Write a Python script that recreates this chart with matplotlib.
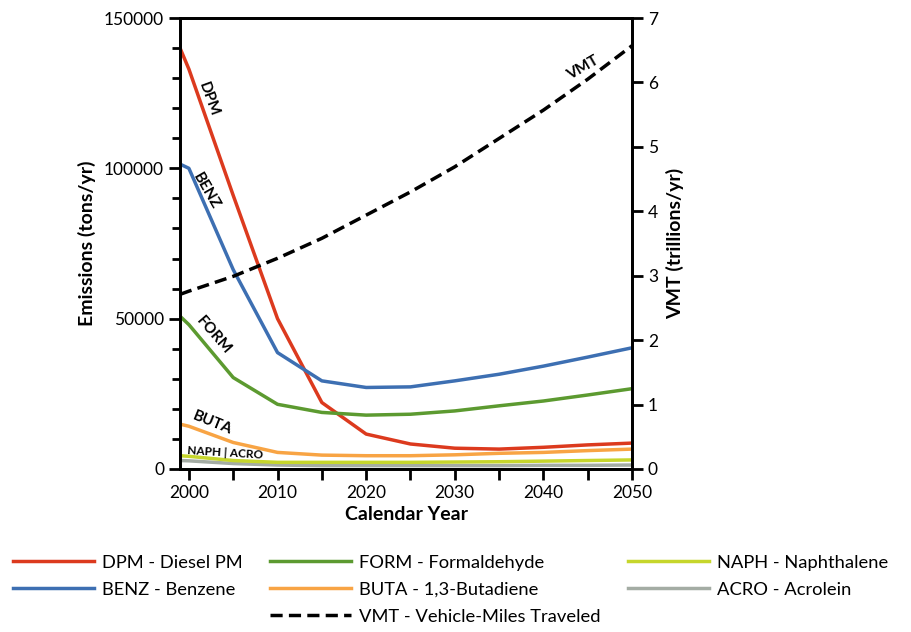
import matplotlib.pyplot as plt
from matplotlib.lines import Line2D

plt.rcParams['font.family'] = ['Lato', 'DejaVu Sans']

years = [1999, 2000, 2005, 2010, 2015, 2020, 2025, 2030, 2035, 2040, 2045, 2050]
dpm = [140000, 133000, 91000, 50000, 22100, 11600, 8300, 6900, 6600, 7200, 8000, 8600]
benz = [101400, 100000, 66300, 38700, 29300, 27100, 27300, 29300, 31500, 34200, 37200, 40300]
form = [50800, 48000, 30400, 21500, 18800, 17900, 18200, 19300, 21000, 22600, 24600, 26700]
buta = [14900, 14200, 8800, 5500, 4600, 4400, 4400, 4700, 5200, 5500, 6100, 6600]
naph = [4400, 4200, 2800, 2200, 2200, 2200, 2200, 2300, 2400, 2600, 2800, 3000]
acro = [2800, 2700, 1800, 1300, 1100, 1100, 1100, 1100, 1100, 1200, 1200, 1300]
vmt = [2.71, 2.76, 2.99, 3.27, 3.58, 3.94, 4.30, 4.69, 5.13, 5.57, 6.05, 6.57]

fig = plt.figure(figsize=(9.12, 6.32), dpi=100)
ax = fig.add_axes([0.1974, 0.258, 0.4956, 0.7135])
ax2 = ax.twinx()

lw = 2.5
l_dpm, = ax.plot(years, dpm, color='#dc3a1e', lw=lw, label='DPM - Diesel PM')
l_benz, = ax.plot(years, benz, color='#3d6fb2', lw=lw, label='BENZ - Benzene')
l_form, = ax.plot(years, form, color='#5c9a30', lw=lw, label='FORM - Formaldehyde')
l_buta, = ax.plot(years, buta, color='#f8a444', lw=lw, label='BUTA - 1,3-Butadiene')
l_acro, = ax.plot(years, acro, color='#a4aca4', lw=lw, label='ACRO - Acrolein')
l_naph, = ax.plot(years, naph, color='#c6d62c', lw=lw, label='NAPH - Naphthalene')
l_vmt, = ax2.plot(years, vmt, color='black', lw=lw, ls=(0, (3.5, 1.8)),
                  label='VMT - Vehicle-Miles Traveled')

ax.set_xlim(1999, 2050)
ax.set_ylim(0, 150000)
ax2.set_ylim(0, 7)
ax.set_xticks(range(2000, 2051, 10))
ax.set_xticks(range(2005, 2050, 10), minor=True)
ax.set_yticks([0, 50000, 100000, 150000])
ax.set_yticks(range(10000, 150000, 10000), minor=True)
ax2.set_yticks(range(0, 8))

for a in (ax, ax2):
    for s in a.spines.values():
        s.set_linewidth(2)
    a.tick_params(which='major', length=8, width=2, labelsize=12.5)
    a.tick_params(which='minor', length=6, width=2)
ax.tick_params(axis='x', which='minor', length=8)

ax.set_xlabel('Calendar Year', fontsize=14, fontweight='bold', labelpad=4)
ax.set_ylabel('Emissions (tons/yr)', fontsize=14, fontweight='bold', labelpad=6)
ax2.set_ylabel('VMT (trillions/yr)', fontsize=14, fontweight='bold', labelpad=6)

kw = dict(fontsize=11, fontweight='bold', ha='center', va='center')
ax.text(2002.2, 123000, 'DPM', rotation=-70, **kw)
ax.text(2002.0, 92500, 'BENZ', rotation=-60, **kw)
ax.text(2002.8, 44500, 'FORM', rotation=-49, **kw)
ax.text(2002.6, 15300, 'BUTA', rotation=-22, **kw)
ax.text(2004.1, 5300, 'NAPH | ACRO', fontsize=8.5, fontweight='bold', ha='center',
        va='center', rotation=-3.5)
ax2.text(2044.5, 6.22, 'VMT', rotation=30, **kw)

blank = Line2D([], [], color='none', label=' ')
handles = [l_dpm, l_benz, blank, l_form, l_buta, l_vmt, l_naph, l_acro, blank]
fig.legend(handles=handles, labels=[h.get_label() for h in handles], ncol=3,
           loc='upper left', bbox_to_anchor=(13 / 912, 0.122), frameon=False,
           borderpad=0, borderaxespad=0, fontsize=13.2, handlelength=4.4,
           handletextpad=0.45, columnspacing=1.5, labelspacing=0.6)

fig.savefig('out.png', dpi=100)
